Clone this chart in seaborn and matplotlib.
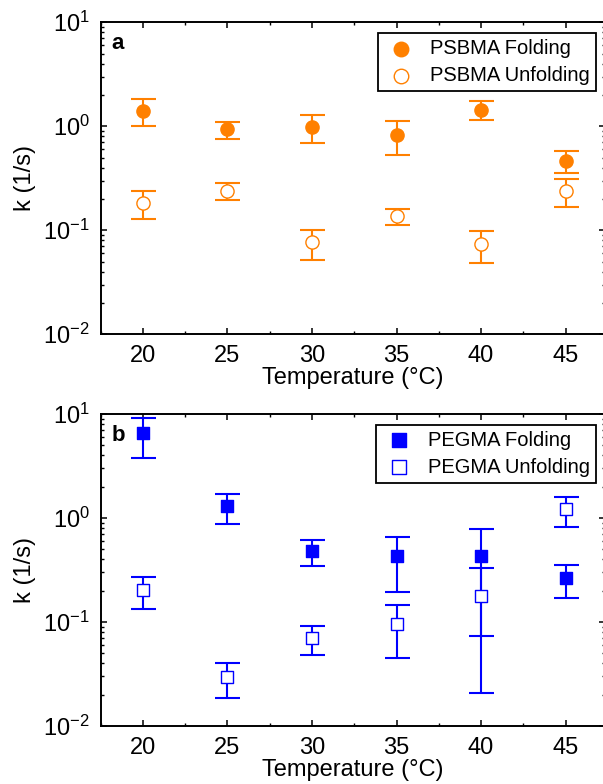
import numpy as np
import matplotlib
matplotlib.use("Agg")
import matplotlib.pyplot as plt
from matplotlib.ticker import AutoMinorLocator, LogLocator, NullFormatter
import seaborn as sns

# ---------------- data ----------------
temps = [20, 25, 30, 35, 40, 45]

psbma_fold = [1.41, 0.94, 0.98, 0.825, 1.44, 0.468]
psbma_fold_lo = [1.01, 0.75, 0.695, 0.526, 1.14, 0.356]
psbma_fold_hi = [1.83, 1.11, 1.29, 1.12, 1.75, 0.582]

psbma_unf = [0.183, 0.240, 0.0772, 0.137, 0.0743, 0.240]
psbma_unf_lo = [0.1285, 0.194, 0.0518, 0.1117, 0.0489, 0.1675]
psbma_unf_hi = [0.239, 0.287, 0.1007, 0.161, 0.099, 0.311]

pegma_fold = [6.51, 1.31, 0.477, 0.427, 0.427, 0.263]
pegma_fold_lo = [3.8, 0.88, 0.343, 0.193, 0.0728, 0.1686]
pegma_fold_hi = [9.2, 1.70, 0.618, 0.651, 0.789, 0.353]

pegma_unf = [0.203, 0.0296, 0.0706, 0.0957, 0.179, 1.22]
pegma_unf_lo = [0.134, 0.0184, 0.0482, 0.0447, 0.0207, 0.825]
pegma_unf_hi = [0.271, 0.0406, 0.092, 0.1455, 0.327, 1.59]

ORANGE = "#ff8000"
BLUE = "#0000ff"

# ---------------- style ----------------
sns.set_theme(style="ticks")
plt.rcParams["font.family"] = ["Liberation Sans", "DejaVu Sans"]
plt.rcParams["mathtext.fontset"] = "custom"
plt.rcParams["mathtext.rm"] = "Liberation Sans"
plt.rcParams["mathtext.it"] = "Liberation Sans:italic"
plt.rcParams["mathtext.bf"] = "Liberation Sans:bold"
for k in ["axes.edgecolor", "text.color", "axes.labelcolor", "xtick.color", "ytick.color"]:
    plt.rcParams[k] = "black"

fig = plt.figure(figsize=(6.03, 7.84), dpi=100)
W, H = 603.0, 784.0
left_px, right_px = 100.7, 604.5
ax_top = fig.add_axes([left_px / W, (H - 334.3) / H, (right_px - left_px) / W, 312 / H])
ax_bot = fig.add_axes([left_px / W, (H - 726.0) / H, (right_px - left_px) / W, 312 / H])


def draw(ax, y, lo, hi, color, marker, filled, label, ms):
    y = np.asarray(y, float)
    lo = np.asarray(lo, float)
    hi = np.asarray(hi, float)
    ax.errorbar(temps, y, yerr=[y - lo, hi - y], fmt="none", ecolor=color,
                elinewidth=1.5, capsize=9, capthick=1.5, zorder=2)
    sns.scatterplot(x=temps, y=y, marker=marker, s=ms ** 2,
                    facecolor=color if filled else "white", edgecolor=color,
                    linewidth=1.0, ax=ax, label=label, zorder=3)


draw(ax_top, psbma_fold, psbma_fold_lo, psbma_fold_hi, ORANGE, "o", True, "PSBMA Folding", 9.5)
draw(ax_top, psbma_unf, psbma_unf_lo, psbma_unf_hi, ORANGE, "o", False, "PSBMA Unfolding", 9.5)
draw(ax_bot, pegma_fold, pegma_fold_lo, pegma_fold_hi, BLUE, "s", True, "PEGMA Folding", 8.6)
draw(ax_bot, pegma_unf, pegma_unf_lo, pegma_unf_hi, BLUE, "s", False, "PEGMA Unfolding", 8.6)

for ax, letter in [(ax_top, "a"), (ax_bot, "b")]:
    ax.set_yscale("log")
    ax.set_ylim(1e-2, 1e1)
    ax.set_xlim(17.5, 47.3)
    ax.set_xticks(temps)
    ax.xaxis.set_minor_locator(AutoMinorLocator(2))
    ax.yaxis.set_major_locator(LogLocator(base=10, numticks=10))
    ax.yaxis.set_minor_locator(LogLocator(base=10, subs=np.arange(2, 10), numticks=20))
    ax.yaxis.set_minor_formatter(NullFormatter())
    ax.tick_params(which="both", direction="in", top=True, right=True)
    ax.tick_params(which="major", length=4, width=1.1, labelsize=17, pad=8)
    ax.tick_params(which="minor", length=2.2, width=1.0)
    for s in ax.spines.values():
        s.set_linewidth(1.4)
        s.set_color("black")
    ax.set_xlabel("Temperature (°C)", fontsize=17, labelpad=0)
    ax.set_ylabel("k (1/s)", fontsize=17, labelpad=5)
    ax.text(0.022, 0.915, letter, transform=ax.transAxes, fontsize=16,
            fontweight="bold", va="baseline", ha="left")
    leg = ax.legend(loc="upper right", bbox_to_anchor=(0.983, 0.966), borderaxespad=0,
                    frameon=True, fancybox=False, edgecolor="black", framealpha=1,
                    fontsize=14.5, handlelength=1.7, handletextpad=0.6, borderpad=0.3,
                    labelspacing=0.4, scatterpoints=1, markerscale=1.1)
    leg.get_frame().set_linewidth(1.3)

fig.savefig("out.png", dpi=100)
